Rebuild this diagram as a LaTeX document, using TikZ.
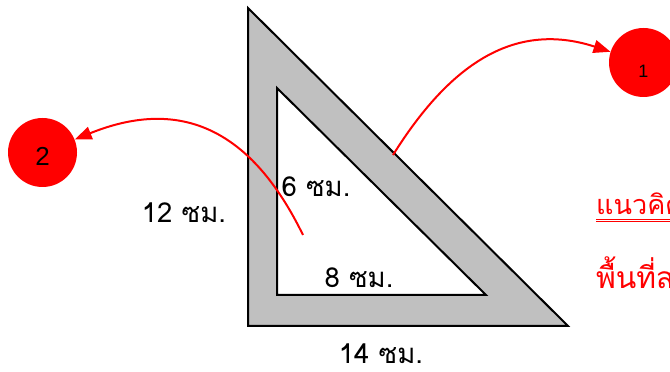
\documentclass[tikz,border=0pt]{standalone}
\usepackage{fontspec}
\setmainfont{Liberation Sans}
\newfontfamily\thaifont[Script=Thai]{Loma}
\usetikzlibrary{arrows.meta}
\definecolor{rulergray}{RGB}{192,192,192}
\definecolor{notered}{RGB}{255,0,0}

\begin{document}
\begin{tikzpicture}[x=1pt,y=1pt,
  numdot/.style={circle, fill=notered, minimum size=69pt, inner sep=0pt},
  lenlabel/.style={anchor=base, inner sep=0pt, font=\thaifont\fontsize{27.5}{32}\selectfont},
  redarrow/.style={-{Triangle[length=17pt,width=13pt]}, line width=2pt, notered}]
\clip (0,0) rectangle (670,372);
% Set square
\draw[line width=2pt, fill=rulergray, even odd rule]
  (248,364) -- (248,46) -- (568,46) -- cycle
  (277,284) -- (277,77) -- (486,77) -- cycle;
% Side lengths
\node[lenlabel] (l12) at (184,149) {12 ซม.};
\node[lenlabel] (l6) at (316,175) {6 ซม.};
\node[lenlabel] (l8) at (359,84) {8 ซม.};
\node[lenlabel] (l14) at (381,8) {14 ซม.};
% Numbered dots
\node[numdot, text height=31pt, font=\fontsize{18}{20}\selectfont] (n1) at (643.5,309.5) {1};
\node[numdot, text height=27pt, font=\fontsize{26}{28}\selectfont] (n2) at (42.5,219.5) {2};
% Arrows to the dots
\coordinate (a1) at (393,217);
\coordinate (a2) at (303,137);
\draw[redarrow] (a1) to[out=58, in=162, looseness=1.1] (n1);
\draw[redarrow] (a2) to[out=116, in=22, looseness=1.2] (n2);
% Notes
\node[anchor=base west, inner sep=0pt, text=notered, font=\thaifont\fontsize{27}{32}\selectfont]
  (idea) at (596,157) {แนวคิด};
\draw[notered, double, line width=1pt, double distance=1.2pt]
  ([yshift=-5.5pt]idea.base west) -- ([yshift=-5.5pt]idea.base east);
\node[anchor=base west, inner sep=0pt, text=notered, font=\thaifont\fontsize{30}{36}\selectfont]
  (area) at (596,83) {พื้นที่สามเหลี่ยม};
\end{tikzpicture}
\end{document}
